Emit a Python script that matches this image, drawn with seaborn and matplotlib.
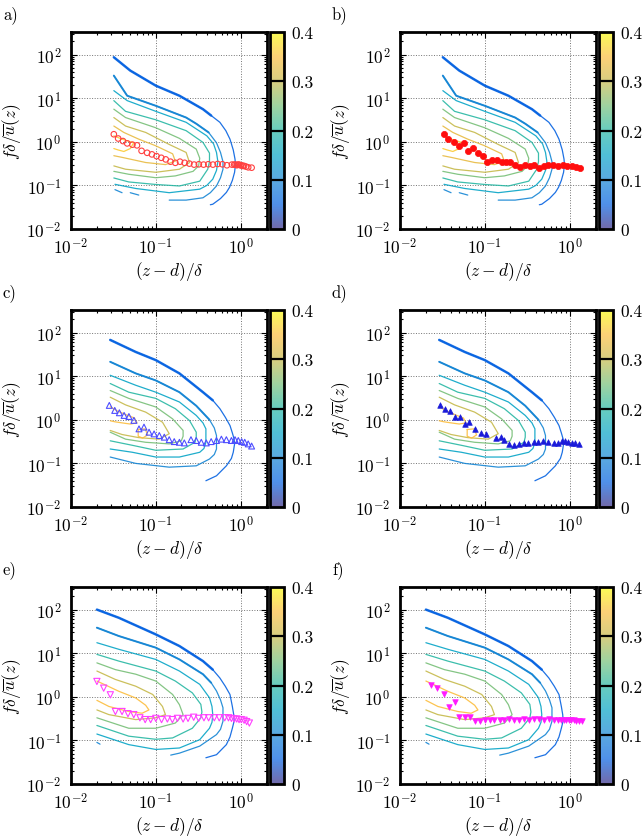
import numpy as np
import matplotlib
matplotlib.use("Agg")
import matplotlib.pyplot as plt
from matplotlib.colors import LinearSegmentedColormap, Normalize
from matplotlib.cm import ScalarMappable
import seaborn as sns

# contour levels of the premultiplied spectrum, one set per row of panels
levels_ab = [0.05, 0.1, 0.15, 0.2, 0.25, 0.3, 0.33, 0.36]
levels_cd = [0.05, 0.1, 0.15, 0.2, 0.25, 0.3, 0.35]
levels_ef = [0.05, 0.1, 0.15, 0.2, 0.25, 0.3, 0.35]

nan = np.nan

# contour lines (z-d)/delta vs f*delta/u
cx_ab = [
    [0.032, 0.05, 0.1, 0.19, 0.36, 0.45, 0.57, 0.67, 0.75, 0.82, 0.86, 0.87, 0.85, 0.8, 0.74, 0.68, 0.58, 0.47, 0.44],
    [0.032, 0.046, 0.1, 0.228, 0.3, 0.42, 0.52, 0.58, 0.62, 0.62, 0.58, 0.52, 0.44, 0.36, 0.228, 0.144,
     nan, 0.063, 0.05, nan, 0.04, 0.033],
    [0.032, 0.046, 0.1, 0.228, 0.40, 0.48, 0.52, 0.54, 0.52, 0.47, 0.40, 0.33, 0.144, 0.058, 0.033],
    [0.032, 0.044, 0.1, 0.228, 0.36, 0.43, 0.43, 0.41, 0.33, 0.19, 0.1, 0.048, 0.032],
    [0.032, 0.044, 0.1, 0.19, 0.3, 0.33, 0.32, 0.275, 0.17, 0.1, 0.048, 0.032],
    [0.032, 0.044, 0.076, 0.144, 0.228, 0.25, 0.19, 0.1, 0.044, 0.032],
    [0.032, 0.042, 0.063, 0.1, 0.158, 0.17, 0.13, 0.076, 0.04, 0.032],
    [0.032, 0.04, 0.055, 0.05, 0.042, 0.036, 0.032],
]
cy_ab = [
    [87, 43, 19.4, 11.4, 5.6, 4.0, 2.8, 1.8, 1.15, 0.65, 0.4, 0.3, 0.2, 0.13, 0.09, 0.069, 0.05, 0.037, 0.036],
    [33, 11.4, 6.7, 3.6, 2.6, 1.64, 0.95, 0.57, 0.35, 0.235, 0.15, 0.097, 0.068, 0.052, 0.046, 0.046,
     nan, 0.06, 0.068, nan, 0.068, 0.08],
    [14.9, 8.8, 5.0, 2.8, 1.37, 0.9, 0.57, 0.35, 0.22, 0.139, 0.1, 0.082, 0.068, 0.085, 0.106],
    [8.8, 5.0, 3.2, 1.8, 0.97, 0.55, 0.35, 0.235, 0.125, 0.097, 0.105, 0.12, 0.148],
    [5.6, 3.6, 2.1, 1.2, 0.68, 0.42, 0.28, 0.21, 0.165, 0.15, 0.18, 0.21],
    [3.6, 2.3, 1.64, 0.87, 0.57, 0.335, 0.235, 0.2, 0.235, 0.28],
    [2.3, 1.64, 1.15, 0.81, 0.53, 0.36, 0.3, 0.335, 0.44, 0.48],
    [1.37, 1.15, 0.95, 0.7, 0.6, 0.65, 0.7],
]

cx_cd = [
    [0.029, 0.058, 0.1, 0.19, 0.36, 0.47, 0.57, 0.66, 0.75, 0.8, 0.84, 0.85, 0.82, 0.78, 0.68, 0.52, 0.39],
    [0.029, 0.058, 0.1, 0.19, 0.3, 0.43, 0.49, 0.52, 0.52, 0.49, 0.43, 0.3, 0.144, 0.058, 0.029],
    [0.029, 0.058, 0.1, 0.19, 0.3, 0.36, 0.39, 0.39, 0.37, 0.33, 0.19, 0.1, 0.053, 0.029],
    [0.029, 0.048, 0.1, 0.17, 0.25, 0.3, 0.3, 0.29, 0.21, 0.1, 0.053, 0.029],
    [0.029, 0.048, 0.1, 0.158, 0.21, 0.21, 0.2, 0.144, 0.076, 0.044, 0.029],
    [0.029, 0.044, 0.076, 0.12, 0.144, 0.11, 0.063, 0.04, 0.029],
    [0.029, 0.035, 0.045, 0.056, 0.06, 0.05, 0.04, 0.033, 0.029, nan, 0.062, 0.075, 0.08, 0.07, 0.062, 0.062],
]
cy_cd = [
    [68, 36, 23.4, 11.6, 4.3, 2.8, 1.8, 1.15, 0.74, 0.5, 0.36, 0.28, 0.18, 0.13, 0.088, 0.052, 0.04],
    [21.4, 11.6, 8.0, 4.3, 2.1, 1.0, 0.65, 0.435, 0.214, 0.16, 0.126, 0.088, 0.082, 0.1, 0.14],
    [10.5, 6.2, 4.3, 2.56, 1.26, 0.85, 0.62, 0.305, 0.22, 0.18, 0.14, 0.14, 0.18, 0.214],
    [6.8, 4.3, 3.1, 1.8, 0.96, 0.52, 0.4, 0.305, 0.214, 0.2, 0.26, 0.33],
    [4.7, 3.1, 1.97, 1.05, 0.57, 0.42, 0.33, 0.28, 0.305, 0.36, 0.52],
    [3.3, 2.2, 1.5, 0.88, 0.48, 0.36, 0.39, 0.46, 0.57],
    [2.0, 1.6, 1.3, 1.1, 0.85, 0.8, 0.85, 0.9, 0.95, nan, 0.6, 0.62, 0.45, 0.38, 0.42, 0.6],
]

cx_ef = [
    [0.0202, 0.0366, 0.1, 0.19, 0.36, 0.47, 0.57, 0.66, 0.75, 0.8, 0.83, 0.84, 0.8, 0.75, 0.68, 0.52, 0.39],
    [0.0202, 0.0366, 0.1, 0.19, 0.36, 0.45, 0.52, 0.58, 0.62, 0.62, 0.58, 0.52, 0.33, 0.19, 0.15,
     nan, 0.0202, 0.022],
    [0.0202, 0.0366, 0.1, 0.19, 0.33, 0.43, 0.46, 0.47, 0.46, 0.43, 0.33, 0.19, 0.1, 0.048, 0.0202],
    [0.0202, 0.0366, 0.1, 0.17, 0.27, 0.34, 0.35, 0.34, 0.27, 0.158, 0.1, 0.048, 0.0202],
    [0.0202, 0.0334, 0.058, 0.1, 0.158, 0.19, 0.21, 0.17, 0.1, 0.048, 0.0202],
    [0.0202, 0.0334, 0.058, 0.092, 0.12, 0.13, 0.1, 0.058, 0.028, 0.0202],
    [0.0202, 0.025, 0.0366, 0.058, 0.076, 0.083, 0.069, 0.048, 0.028, 0.0202],
]
cy_ef = [
    [100, 65, 27, 14.6, 6.6, 4.2, 2.7, 1.75, 1.13, 0.6, 0.39, 0.28, 0.19, 0.12, 0.08, 0.047, 0.04],
    [38.5, 24.8, 13.4, 7.2, 3.3, 2.1, 1.36, 0.85, 0.56, 0.275, 0.18, 0.136, 0.074, 0.051, 0.046,
     nan, 0.09, 0.082],
    [17.4, 12.3, 7.2, 3.9, 1.93, 0.95, 0.6, 0.39, 0.26, 0.19, 0.104, 0.067, 0.062, 0.08, 0.14],
    [9.4, 6.6, 3.9, 2.3, 1.23, 0.67, 0.45, 0.33, 0.19, 0.114, 0.106, 0.125, 0.22],
    [6.0, 4.2, 3.3, 2.3, 1.13, 0.66, 0.39, 0.25, 0.19, 0.19, 0.33],
    [3.9, 2.5, 1.75, 1.13, 0.6, 0.39, 0.33, 0.3, 0.39, 0.5],
    [2.3, 1.9, 1.34, 0.94, 0.64, 0.5, 0.42, 0.46, 0.6, 0.83],
]

# spectral peak positions (markers)
peak_a_x = [0.032, 0.036, 0.041, 0.046, 0.053, 0.060, 0.068, 0.079, 0.090, 0.102, 0.116, 0.131, 0.149,
            0.170, 0.193, 0.219, 0.249, 0.283, 0.322, 0.366, 0.416, 0.472, 0.537, 0.61, 0.69, 0.79,
            0.84, 0.87, 0.90, 0.93, 0.96, 0.99, 1.02, 1.06, 1.1, 1.16, 1.23, 1.35]
peak_a_y = [1.49, 1.19, 1.04, 0.92, 0.86, 0.83, 0.62, 0.56, 0.515, 0.47, 0.43, 0.395, 0.35, 0.33,
            0.35, 0.33, 0.316, 0.30, 0.305, 0.30, 0.305, 0.30, 0.31, 0.305, 0.29, 0.30, 0.30, 0.30,
            0.29, 0.30, 0.30, 0.29, 0.29, 0.28, 0.28, 0.27, 0.26, 0.255]

peak_b_x = [0.033, 0.037, 0.043, 0.049, 0.057, 0.063, 0.073, 0.083, 0.095, 0.107, 0.122, 0.14, 0.158,
            0.177, 0.2, 0.229, 0.262, 0.3, 0.34, 0.385, 0.44, 0.5, 0.56, 0.64, 0.73, 0.83, 0.94,
            1.07, 1.19, 1.34]
peak_b_y = [1.5, 1.19, 0.97, 0.81, 0.93, 0.62, 0.71, 0.55, 0.47, 0.35, 0.38, 0.38, 0.35, 0.35, 0.34,
            0.30, 0.27, 0.30, 0.28, 0.29, 0.25, 0.28, 0.30, 0.29, 0.28, 0.29, 0.28, 0.28, 0.27, 0.25]

peak_c_x = [0.0283, 0.0328, 0.0372, 0.0423, 0.0482, 0.0552, 0.0634, 0.0726, 0.0833, 0.0955, 0.11,
            0.126, 0.144, 0.165, 0.19, 0.217, 0.26, 0.3, 0.344, 0.394, 0.45, 0.52, 0.594, 0.68,
            0.78, 0.86, 0.94, 1.03, 1.12, 1.23, 1.35]
peak_c_y = [2.14, 1.64, 1.45, 1.26, 1.19, 0.97, 0.62, 0.68, 0.52, 0.475, 0.436, 0.40, 0.35, 0.316,
            0.305, 0.295, 0.35, 0.335, 0.305, 0.295, 0.316, 0.335, 0.36, 0.35, 0.335, 0.35, 0.335,
            0.316, 0.305, 0.28, 0.25]

peak_d_x = [0.0293, 0.0342, 0.0388, 0.044, 0.0506, 0.058, 0.066, 0.076, 0.0897, 0.102, 0.134, 0.155,
            0.17, 0.193, 0.221, 0.253, 0.287, 0.326, 0.377, 0.43, 0.49, 0.56, 0.65, 0.73, 0.81,
            0.89, 0.97, 1.06, 1.17, 1.3]
peak_d_y = [2.22, 1.76, 1.61, 1.17, 1.17, 0.79, 0.87, 0.61, 0.51, 0.47, 0.39, 0.40, 0.34, 0.275,
            0.27, 0.275, 0.29, 0.30, 0.31, 0.315, 0.33, 0.31, 0.30, 0.29, 0.33, 0.32, 0.31, 0.30,
            0.29, 0.28]

peak_e_x = [0.0202, 0.0243, 0.0291, 0.0334, 0.040, 0.047, 0.055, 0.065, 0.075, 0.087, 0.1, 0.117,
            0.137, 0.157, 0.18, 0.21, 0.24, 0.28, 0.32, 0.37, 0.42, 0.49, 0.56, 0.65, 0.72, 0.78,
            0.84, 0.9, 0.96, 1.02, 1.1, 1.18, 1.27]
peak_e_y = [2.25, 1.58, 1.11, 0.46, 0.46, 0.41, 0.39, 0.33, 0.30, 0.30, 0.32, 0.30, 0.31, 0.30,
            0.32, 0.31, 0.32, 0.34, 0.32, 0.33, 0.33, 0.33, 0.33, 0.33, 0.33, 0.32, 0.31, 0.31,
            0.30, 0.30, 0.29, 0.27, 0.25]

peak_f_x = [0.023, 0.0276, 0.033, 0.038, 0.044, 0.05, 0.058, 0.067, 0.077, 0.088, 0.1, 0.115, 0.13,
            0.15, 0.17, 0.195, 0.22, 0.25, 0.29, 0.33, 0.38, 0.44, 0.5, 0.57, 0.65, 0.74, 0.8, 0.86,
            0.92, 0.98, 1.05, 1.12, 1.2, 1.3, 1.4]
peak_f_y = [1.89, 1.58, 1.17, 0.57, 0.75, 0.34, 0.34, 0.34, 0.285, 0.285, 0.29, 0.30, 0.29, 0.30,
            0.30, 0.31, 0.30, 0.30, 0.31, 0.30, 0.31, 0.31, 0.30, 0.31, 0.30, 0.30, 0.30, 0.30,
            0.30, 0.30, 0.29, 0.29, 0.28, 0.28, 0.28]

panel_labels = ["a)", "b)", "c)", "d)", "e)", "f)"]
cbar_ticks = [0, 0.1, 0.2, 0.3, 0.4]
cbar_ticklabels = ["0", "0.1", "0.2", "0.3", "0.4"]

# parula-like colormap
parula = LinearSegmentedColormap.from_list("parula", [
    (0.208, 0.166, 0.529), (0.02, 0.384, 0.882), (0.078, 0.522, 0.831),
    (0.024, 0.647, 0.776), (0.15, 0.717, 0.64), (0.46, 0.75, 0.47),
    (0.78, 0.726, 0.29), (0.99, 0.74, 0.24), (0.976, 0.983, 0.054)])
norm = Normalize(0, 0.4)

sns.set_style("ticks")
plt.rcParams.update({
    "font.family": "serif",
    "font.serif": ["cmr10"],
    "mathtext.fontset": "cm",
    "axes.formatter.use_mathtext": True,
    "font.size": 12,
    "text.color": "black",
    "axes.labelcolor": "black",
    "axes.edgecolor": "black",
    "xtick.color": "black",
    "ytick.color": "black",
})

W, H = 642, 837
fig = plt.figure(figsize=(W / 100, H / 100), dpi=100)

col_left = [71, 400]
row_top = [33, 311, 588]
ax_w, ax_h = 196, 197

rows = [(levels_ab, cx_ab, cy_ab), (levels_cd, cx_cd, cy_cd), (levels_ef, cx_ef, cy_ef)]
peaks = [
    (peak_a_x, peak_a_y, dict(marker="o", s=16, facecolor="none", edgecolor=(1, 0.25, 0.25), linewidth=0.8)),
    (peak_b_x, peak_b_y, dict(marker="o", s=20, color=(1, 0.05, 0.05), edgecolor=(1, 0.05, 0.05), linewidth=0.5)),
    (peak_c_x, peak_c_y, dict(marker="^", s=18, facecolor="none", edgecolor=(0.3, 0.3, 1.0), linewidth=0.8)),
    (peak_d_x, peak_d_y, dict(marker="^", s=16, color=(0.1, 0.1, 0.85), edgecolor=(0.1, 0.1, 0.85), linewidth=0.5)),
    (peak_e_x, peak_e_y, dict(marker="v", s=20, facecolor="none", edgecolor=(1, 0.25, 1), linewidth=0.8)),
    (peak_f_x, peak_f_y, dict(marker="v", s=16, color=(1, 0.1, 1), edgecolor=(1, 0.1, 1), linewidth=0.5)),
]

for i in range(6):
    r, c = divmod(i, 2)
    left = col_left[c]
    top = row_top[r]
    ax = fig.add_axes([left / W, 1 - (top + ax_h) / H, ax_w / W, ax_h / H])
    ax.set_xscale("log")
    ax.set_yscale("log")
    ax.set_xlim(0.01, 2.05)
    ax.set_ylim(0.01, 330)

    levels, cxs, cys = rows[r]
    for k, (lev, xs, ys) in enumerate(zip(levels, cxs, cys)):
        col = parula(norm(lev))
        ax.plot(xs, ys, color=col, lw=0.9, alpha=0.9, zorder=3)
        if k < 2:
            # upper branch is noisier / thicker in the original
            ax.plot(xs[:6], ys[:6], color=col, lw=1.8 - 0.4 * k, alpha=0.9, zorder=3)

    px, py, kw = peaks[i]
    sns.scatterplot(x=px, y=py, ax=ax, zorder=5, **kw)

    ax.grid(True, which="major", ls=":", color="0.45", lw=0.7)
    ax.set_xticks([0.01, 0.1, 1])
    ax.set_yticks([0.01, 0.1, 1, 10, 100])
    ax.tick_params(which="both", direction="in", top=True, right=True, width=0.8)
    ax.tick_params(axis="x", which="major", length=4, labelsize=12.5, pad=5)
    ax.tick_params(axis="y", which="major", length=4, labelsize=12.5, pad=7)
    ax.tick_params(which="minor", length=2)
    for sp in ax.spines.values():
        sp.set_linewidth(2)
        sp.set_color("black")
    ax.set_xlabel(r"$(z-d)/\delta$", fontsize=12.5, labelpad=2)
    ax.set_ylabel(r"$f\delta/\overline{u}(z)$", fontsize=12.5, labelpad=2)

    cax = fig.add_axes([(left + ax_w + 2.7) / W, 1 - (top + ax_h) / H, 14.5 / W, ax_h / H])
    sm = ScalarMappable(norm=norm, cmap=parula)
    cb = fig.colorbar(sm, cax=cax, alpha=0.7, ticks=cbar_ticks)
    cb.ax.set_yticklabels(cbar_ticklabels)
    cb.outline.set_linewidth(2)
    cb.outline.set_edgecolor("black")
    for v in [0.1, 0.2, 0.3]:
        cb.ax.axhline(v, color="k", lw=1.6)
    cb.ax.tick_params(length=0, labelsize=12.5, pad=5)

    fig.text((left - 68) / W, 1 - (top - 18) / H, panel_labels[i], fontsize=12, va="center")

fig.savefig("out.png", dpi=100)
